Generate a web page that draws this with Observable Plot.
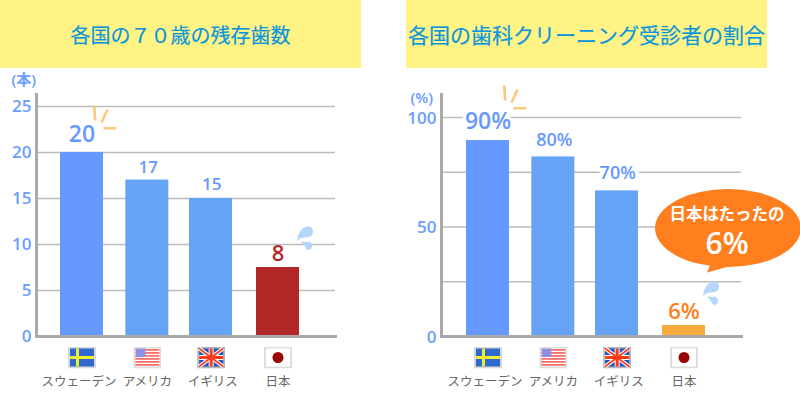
<!DOCTYPE html>
<html lang="ja">
<head>
<meta charset="utf-8">
<script src="https://cdn.jsdelivr.net/npm/d3@7"></script>
<script src="https://cdn.jsdelivr.net/npm/@observablehq/plot@0.6"></script>
<style>
html,body{margin:0;padding:0;background:#fff;}
#page{position:relative;width:800px;height:408px;overflow:hidden;font-family:"Noto Sans CJK JP","Noto Sans",sans-serif;}
.band{position:absolute;top:0;height:68px;background:#fff385;color:#0a96dc;display:flex;align-items:center;justify-content:center;white-space:nowrap;-webkit-text-stroke:0.2px #0a96dc;}
.panel{position:absolute;top:68px;}
svg{overflow:visible;}
</style>
</head>
<body>
<div id="page">
  <div class="band" id="t1" style="left:0;width:361px;font-size:20px;"></div>
  <div class="band" id="t2" style="left:406px;width:361px;font-size:21px;"></div>
  <div class="panel" id="p1" style="left:0"></div>
  <div class="panel" id="p2" style="left:400px"></div>
</div>
<script>
const countries = ["スウェーデン", "アメリカ", "イギリス", "日本"];

const title1 = "各国の７０歳の残存歯数";
const unit1 = "(本)";
const teethValues = [20, 17, 15, 7.5];
const teethLabels = ["20", "17", "15", "8"];
const teethGrid = [5, 10, 15, 20, 25];
const teethTicks = [0, 5, 10, 15, 20, 25];

const title2 = "各国の歯科クリーニング受診者の割合";
const unit2 = "(%)";
const cleaningValues = [89.5, 82, 66.5, 5];
const cleaningLabels = ["90%", "80%", "70%", "6%"];
const cleaningGrid = [25, 50, 75, 100];
const cleaningTicks = [0, 50, 100];
const bubbleLines = ["日本はたったの", "6%"];

const uri = s => "data:image/svg+xml," + encodeURIComponent(s);
const svg = (w, h, body) => `<svg xmlns="http://www.w3.org/2000/svg" width="${w}" height="${h}" viewBox="0 0 ${w} ${h}">${body}</svg>`;

const flagArt = {
  "スウェーデン": svg(28, 22, `<rect width="28" height="22" fill="#d8d8d8"/><rect x="2" y="2" width="24" height="18" fill="#2e69cf"/><rect x="8" y="2" width="3" height="18" fill="#f2ee2c"/><rect x="2" y="9.5" width="24" height="3" fill="#f2ee2c"/>`),
  "アメリカ": svg(28, 22, `<rect width="28" height="22" fill="#dcdcdc"/><rect x="2" y="2" width="24" height="18" fill="#fff"/>` +
     [2.5, 5.5, 8.5, 11.5, 14.5, 17.5].map(y => `<rect x="2" y="${y}" width="24" height="1.8" fill="#fb6f6a"/>`).join("") +
     `<rect x="2.5" y="2" width="9.5" height="8.5" fill="#8f90e2"/>`),
  "イギリス": svg(28, 22, `<rect width="28" height="22" fill="#b4b4b4"/><rect x="2" y="2" width="24" height="18" fill="#1f55bd"/><path d="M2 2L26 20M26 2L2 20" stroke="#fff" stroke-width="4"/><path d="M14 2V20M2 11H26" stroke="#fff" stroke-width="5"/><path d="M2 2L26 20M26 2L2 20" stroke="#ff3a18" stroke-width="1.6"/><path d="M14 2V20M2 11H26" stroke="#ff3a18" stroke-width="3"/>`),
  "日本": svg(28, 22, `<rect width="28" height="22" fill="#dedede"/><rect x="2" y="2" width="24" height="18" fill="#fff"/><circle cx="14" cy="11" r="5.5" fill="#9a0505"/>`)
};

const sparkArt = svg(24, 26, `<g stroke="#fcc87c" stroke-width="2.6" fill="none"><path d="M1.3 1L2.2 16"/><path d="M8.5 18L14.5 5"/><path d="M10.5 23.8H23"/></g>`);
const dropArt = svg(17, 25, `<g fill="#b5d6fb"><path d="M0.5 15C1 8 5 1 11 0.5C15.5 0 17.5 4 16 8C14.5 12 9 11 5 12C3 12.5 1.5 13.5 0.5 15Z"/><path d="M4 15.5C7 15 9 16.5 11 16C14 15 16 18 15.5 21C15 24 11 25 9.5 22.5C8.5 20 7 17.5 4 15.5Z"/></g>`);
const bubbleArt = svg(146, 86, `<ellipse cx="73" cy="39.5" rx="73" ry="39" fill="#ff7f1e"/><path d="M58 70L52 84L88 74Z" fill="#ff7f1e"/>`);

const rows = (values, labels) => countries.map((country, i) => ({country, value: values[i], label: labels[i]}));

const barColors = ["#6699ff", "#66a3f5", "#66a3f5"];
const blue = "#6b9dff";

function chart({data, grid, ticks, yMax, unit, unitDx, unitDy, tickDy, ml, mr, xr, lastColor, lastText, hiDy, midSize, sparkDx, sparkDy, dropDx, dropDy, lastSize, lastDy, dys, firstDx, extra}) {
  const hi = data[0], last = data[3], mid = data.slice(1, 3);
  const notThird = data.filter(d => d !== mid[1]);
  const third = [mid[1]];
  return Plot.plot({
    width: 400, height: 340,
    marginTop: 26, marginBottom: 72, marginLeft: ml, marginRight: mr,
    style: {fontFamily: '"Open Sans","Noto Sans CJK JP",sans-serif', background: "transparent", overflow: "visible"},
    x: {domain: countries, range: xr, paddingInner: 0.342, paddingOuter: 0, round: false, label: null},
    y: {domain: [0, yMax], label: null},
    color: {domain: countries, range: [...barColors, lastColor]},
    marks: [
      Plot.ruleY(grid, {stroke: "#bcbcbc", strokeWidth: 1.6}),
      Plot.barY(notThird, {x: "country", y: "value", fill: "country"}),
      Plot.barY(third, {x: "country", y: "value", fill: "country", dx: -1.7}),
      Plot.frame({anchor: "left", stroke: "#aaaaaa", strokeWidth: 3}),
      Plot.frame({anchor: "bottom", stroke: "#aaaaaa", strokeWidth: 3}),
      Plot.axisY({ticks, tickSize: 0, tickPadding: 5, dy: tickDy, fontSize: 17, fontWeight: 600, color: blue, label: null, tickFormat: d => d}),
      Plot.axisX({ticks: countries.slice(1), tickSize: 0, tickPadding: 41, fontSize: 12.5, color: "#666", label: null}),
      Plot.axisX({ticks: countries.slice(0, 1), dx: firstDx, tickSize: 0, tickPadding: 41, fontSize: 12.5, color: "#666", label: null}),
      Plot.text([unit], {frameAnchor: "top-left", dx: unitDx, dy: unitDy, fontSize: 15, fontWeight: 600, fill: blue, textAnchor: "start", lineAnchor: "top"}),
      Plot.image(notThird, {x: "country", y: 0, dy: 21, width: 28, height: 22, src: d => uri(flagArt[d.country])}),
      Plot.image(third, {x: "country", y: 0, dy: 21, dx: -1.5, width: 28, height: 22, src: d => uri(flagArt[d.country])}),
      Plot.text([hi], {x: "country", y: "value", text: "label", dy: hiDy, fontSize: 23, fontWeight: 600, fill: "#6699ff", stroke: "#fff", strokeWidth: 6}),
      Plot.text([mid[0]], {x: "country", y: "value", text: "label", dy: dys[0], dx: 1, fontSize: midSize, fontWeight: 600, fill: "#6699ff", stroke: "#fff", strokeWidth: 6}),
      Plot.text([mid[1]], {x: "country", y: "value", text: "label", dy: dys[1], dx: -1, fontSize: midSize, fontWeight: 600, fill: "#6699ff", stroke: "#fff", strokeWidth: 8}),
      Plot.text([last], {x: "country", y: "value", text: "label", dy: lastDy, fontSize: lastSize, fontWeight: 600, fill: lastText}),
      Plot.image([hi], {x: "country", y: "value", dx: sparkDx, dy: sparkDy, width: 24, height: 26, src: () => uri(sparkArt)}),
      Plot.image([last], {x: "country", y: "value", dx: dropDx, dy: dropDy, width: 17, height: 25, src: () => uri(dropArt)}),
      ...(extra ? extra(last) : [])
    ]
  });
}

document.getElementById("t1").textContent = title1;
document.getElementById("t2").textContent = title2;

document.getElementById("p1").append(chart({
  data: rows(teethValues, teethLabels),
  grid: teethGrid, ticks: teethTicks, yMax: 26.3, unit: unit1, unitDx: -25, unitDy: -20, tickDy: 0.5,
  ml: 36, mr: 65, xr: [60, 299],
  lastColor: "#b22828", lastText: "#b22828",
  hiDy: -18, midSize: 17, sparkDx: 23, sparkDy: -35,
  dropDx: 27, dropDy: -29, lastSize: 22, lastDy: -14, dys: [-13, -14], firstDx: -3
}));

document.getElementById("p2").append(chart({
  data: rows(cleaningValues, cleaningLabels),
  grid: cleaningGrid, ticks: cleaningTicks, yMax: 110.5, unit: unit2, unitDx: -31, unitDy: -2, tickDy: 1,
  ml: 41, mr: 59, xr: [66, 305],
  lastColor: "#f5ab3a", lastText: "#ff7f1e",
  hiDy: -19, midSize: 18, sparkDx: 27, sparkDy: -43,
  dropDx: 27, dropDy: -32, lastSize: 22, lastDy: -14, dys: [-17, -18], firstDx: -3,
  extra: last => [
    Plot.image([last], {x: "country", y: "value", dx: 44, dy: -94, width: 146, height: 86, src: () => uri(bubbleArt)}),
    Plot.text([bubbleLines[0]], {x: () => last.country, y: () => last.value, dx: 43, dy: -111, fontSize: 16.5, fontWeight: 700, fill: "#fff"}),
    Plot.text([bubbleLines[1]], {x: () => last.country, y: () => last.value, dx: 43, dy: -81, fontSize: 30, fontWeight: 600, fill: "#fff"})
  ]
}));
</script>
</body>
</html>
